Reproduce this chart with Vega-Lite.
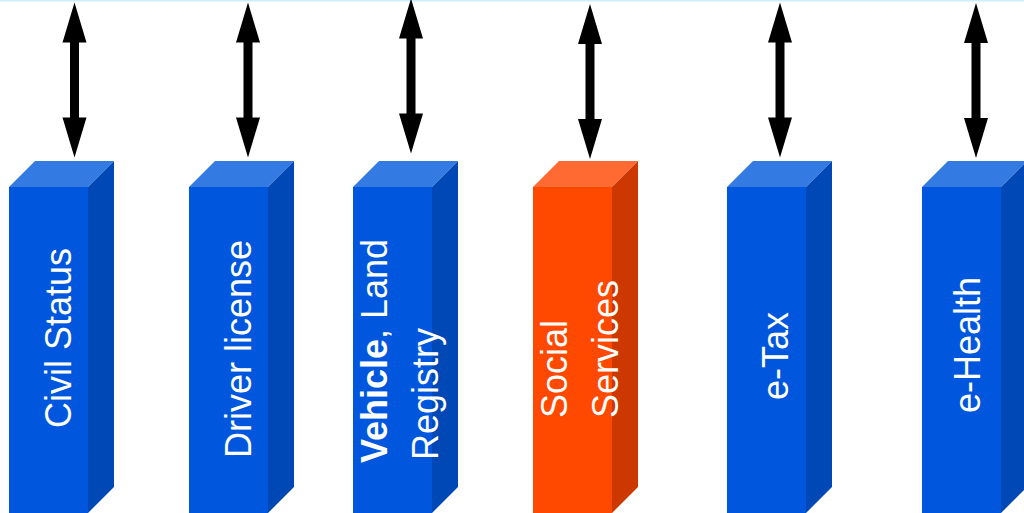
{
  "$schema": "https://vega.github.io/schema/vega-lite/v6.json",
  "autosize": {"type": "fit", "contains": "padding"},
  "width": 1024,
  "height": 513,
  "padding": 0,
  "background": "white",
  "config": {"view": {"stroke": null}},
  "datasets": {
    "fronts": [
      {"box": "Civil Status", "x0": 9, "x1": 88, "kind": "blue"},
      {"box": "Driver license", "x0": 189, "x1": 268, "kind": "blue"},
      {"box": "Vehicle, Land Registry", "x0": 353, "x1": 432, "kind": "blue"},
      {"box": "Social Services", "x0": 533, "x1": 612, "kind": "orange"},
      {"box": "e-Tax", "x0": 727, "x1": 806, "kind": "blue"},
      {"box": "e-Health", "x0": 922, "x1": 1001, "kind": "blue"}
    ],
    "tops": [
      {"box": "Civil Status", "kind": "blue", "x": 9, "y": 187, "y2": 187},
      {"box": "Civil Status", "kind": "blue", "x": 35, "y": 187, "y2": 161},
      {"box": "Civil Status", "kind": "blue", "x": 88, "y": 187, "y2": 161},
      {"box": "Civil Status", "kind": "blue", "x": 114, "y": 161, "y2": 161},
      {"box": "Driver license", "kind": "blue", "x": 189, "y": 187, "y2": 187},
      {"box": "Driver license", "kind": "blue", "x": 215, "y": 187, "y2": 161},
      {"box": "Driver license", "kind": "blue", "x": 268, "y": 187, "y2": 161},
      {"box": "Driver license", "kind": "blue", "x": 294, "y": 161, "y2": 161},
      {"box": "Vehicle, Land Registry", "kind": "blue", "x": 353, "y": 187, "y2": 187},
      {"box": "Vehicle, Land Registry", "kind": "blue", "x": 379, "y": 187, "y2": 161},
      {"box": "Vehicle, Land Registry", "kind": "blue", "x": 432, "y": 187, "y2": 161},
      {"box": "Vehicle, Land Registry", "kind": "blue", "x": 458, "y": 161, "y2": 161},
      {"box": "Social Services", "kind": "orange", "x": 533, "y": 187, "y2": 187},
      {"box": "Social Services", "kind": "orange", "x": 559, "y": 187, "y2": 161},
      {"box": "Social Services", "kind": "orange", "x": 612, "y": 187, "y2": 161},
      {"box": "Social Services", "kind": "orange", "x": 638, "y": 161, "y2": 161},
      {"box": "e-Tax", "kind": "blue", "x": 727, "y": 187, "y2": 187},
      {"box": "e-Tax", "kind": "blue", "x": 753, "y": 187, "y2": 161},
      {"box": "e-Tax", "kind": "blue", "x": 806, "y": 187, "y2": 161},
      {"box": "e-Tax", "kind": "blue", "x": 832, "y": 161, "y2": 161},
      {"box": "e-Health", "kind": "blue", "x": 922, "y": 187, "y2": 187},
      {"box": "e-Health", "kind": "blue", "x": 948, "y": 187, "y2": 161},
      {"box": "e-Health", "kind": "blue", "x": 1001, "y": 187, "y2": 161},
      {"box": "e-Health", "kind": "blue", "x": 1027, "y": 161, "y2": 161}
    ],
    "sides": [
      {"box": "Civil Status", "kind": "blue", "x": 88, "y": 513, "y2": 187},
      {"box": "Civil Status", "kind": "blue", "x": 114, "y": 487, "y2": 161},
      {"box": "Driver license", "kind": "blue", "x": 268, "y": 513, "y2": 187},
      {"box": "Driver license", "kind": "blue", "x": 294, "y": 487, "y2": 161},
      {"box": "Vehicle, Land Registry", "kind": "blue", "x": 432, "y": 513, "y2": 187},
      {"box": "Vehicle, Land Registry", "kind": "blue", "x": 458, "y": 487, "y2": 161},
      {"box": "Social Services", "kind": "orange", "x": 612, "y": 513, "y2": 187},
      {"box": "Social Services", "kind": "orange", "x": 638, "y": 487, "y2": 161},
      {"box": "e-Tax", "kind": "blue", "x": 806, "y": 513, "y2": 187},
      {"box": "e-Tax", "kind": "blue", "x": 832, "y": 487, "y2": 161},
      {"box": "e-Health", "kind": "blue", "x": 1001, "y": 513, "y2": 187},
      {"box": "e-Health", "kind": "blue", "x": 1027, "y": 487, "y2": 161}
    ],
    "arrows": [
      {"box": "Civil Status", "x": 74.5, "y": 80},
      {"box": "Driver license", "x": 248, "y": 80},
      {"box": "Vehicle, Land Registry", "x": 411, "y": 76},
      {"box": "Social Services", "x": 590, "y": 81.5},
      {"box": "e-Tax", "x": 780, "y": 80},
      {"box": "e-Health", "x": 976, "y": 80.5}
    ],
    "centeredLabels": [
      {"text": "Civil Status", "x": 71, "y": 338},
      {"text": "Driver license", "x": 251, "y": 349},
      {"text": "e-Tax", "x": 788, "y": 356},
      {"text": "e-Health", "x": 980, "y": 345}
    ],
    "startLabels": [
      {"text": ", Land", "x": 387, "y": 339},
      {"text": "Registry", "x": 438, "y": 460},
      {"text": "Social", "x": 567, "y": 418},
      {"text": "Services", "x": 618, "y": 418}
    ],
    "boldLabels": [
      {"text": "Vehicle", "x": 387, "y": 339}
    ]
  },
  "layer": [
    {
      "data": {"values": [{"y": 0}]},
      "mark": {"type": "rule", "color": "#cdeefd", "strokeWidth": 3, "clip": true},
      "encoding": {
        "y": {"field": "y", "type": "quantitative", "scale": {"domain": [0, 513], "reverse": true, "nice": false, "zero": false}, "axis": null}
      }
    },
    {
      "data": {"name": "fronts"},
      "mark": {"type": "rect", "clip": true},
      "encoding": {
        "x": {"field": "x0", "type": "quantitative", "scale": {"domain": [0, 1024], "nice": false, "zero": false}, "axis": null},
        "x2": {"field": "x1"},
        "y": {"datum": 187, "type": "quantitative", "scale": {"domain": [0, 513], "reverse": true, "nice": false, "zero": false}, "axis": null},
        "y2": {"datum": 513},
        "fill": {"condition": {"test": "datum.kind === 'orange'", "value": "#ff4800"}, "value": "#0057dd"}
      }
    },
    {
      "data": {"name": "tops"},
      "mark": {"type": "area", "opacity": 1, "interpolate": "linear", "clip": true},
      "encoding": {
        "x": {"field": "x", "type": "quantitative", "scale": {"domain": [0, 1024], "nice": false, "zero": false}, "axis": null},
        "y": {"field": "y", "type": "quantitative", "scale": {"domain": [0, 513], "reverse": true, "nice": false, "zero": false}, "axis": null},
        "y2": {"field": "y2"},
        "detail": {"field": "box"},
        "fill": {"condition": {"test": "datum.kind === 'orange'", "value": "#ff6a33"}, "value": "#337be3"}
      }
    },
    {
      "data": {"name": "sides"},
      "mark": {"type": "area", "opacity": 1, "interpolate": "linear", "clip": true},
      "encoding": {
        "x": {"field": "x", "type": "quantitative", "scale": {"domain": [0, 1024], "nice": false, "zero": false}, "axis": null},
        "y": {"field": "y", "type": "quantitative", "scale": {"domain": [0, 513], "reverse": true, "nice": false, "zero": false}, "axis": null},
        "y2": {"field": "y2"},
        "detail": {"field": "box"},
        "fill": {"condition": {"test": "datum.kind === 'orange'", "value": "#cc3800"}, "value": "#0048b5"}
      }
    },
    {
      "data": {"name": "arrows"},
      "mark": {
        "type": "point",
        "shape": "M0,-7.75L1.2,-3.75L0.45,-3.75L0.45,3.75L1.2,3.75L0,7.75L-1.2,3.75L-0.45,3.75L-0.45,-3.75L-1.2,-3.75Z",
        "size": 400,
        "filled": true,
        "fill": "black",
        "opacity": 1,
        "strokeWidth": 0,
        "clip": true
      },
      "encoding": {
        "x": {"field": "x", "type": "quantitative", "scale": {"domain": [0, 1024], "nice": false, "zero": false}, "axis": null},
        "y": {"field": "y", "type": "quantitative", "scale": {"domain": [0, 513], "reverse": true, "nice": false, "zero": false}, "axis": null}
      }
    },
    {
      "data": {"name": "centeredLabels"},
      "mark": {"type": "text", "angle": 270, "align": "center", "baseline": "alphabetic", "font": "Liberation Sans, Arial", "fontSize": 36, "color": "white"},
      "encoding": {
        "x": {"field": "x", "type": "quantitative", "scale": {"domain": [0, 1024], "nice": false, "zero": false}, "axis": null},
        "y": {"field": "y", "type": "quantitative", "scale": {"domain": [0, 513], "reverse": true, "nice": false, "zero": false}, "axis": null},
        "text": {"field": "text"}
      }
    },
    {
      "data": {"name": "startLabels"},
      "mark": {"type": "text", "angle": 270, "align": "left", "baseline": "alphabetic", "font": "Liberation Sans, Arial", "fontSize": 36, "color": "white"},
      "encoding": {
        "x": {"field": "x", "type": "quantitative", "scale": {"domain": [0, 1024], "nice": false, "zero": false}, "axis": null},
        "y": {"field": "y", "type": "quantitative", "scale": {"domain": [0, 513], "reverse": true, "nice": false, "zero": false}, "axis": null},
        "text": {"field": "text"}
      }
    },
    {
      "data": {"name": "boldLabels"},
      "mark": {"type": "text", "angle": 270, "align": "right", "baseline": "alphabetic", "font": "Liberation Sans, Arial", "fontWeight": "bold", "fontSize": 36, "color": "white"},
      "encoding": {
        "x": {"field": "x", "type": "quantitative", "scale": {"domain": [0, 1024], "nice": false, "zero": false}, "axis": null},
        "y": {"field": "y", "type": "quantitative", "scale": {"domain": [0, 513], "reverse": true, "nice": false, "zero": false}, "axis": null},
        "text": {"field": "text"}
      }
    }
  ]
}
